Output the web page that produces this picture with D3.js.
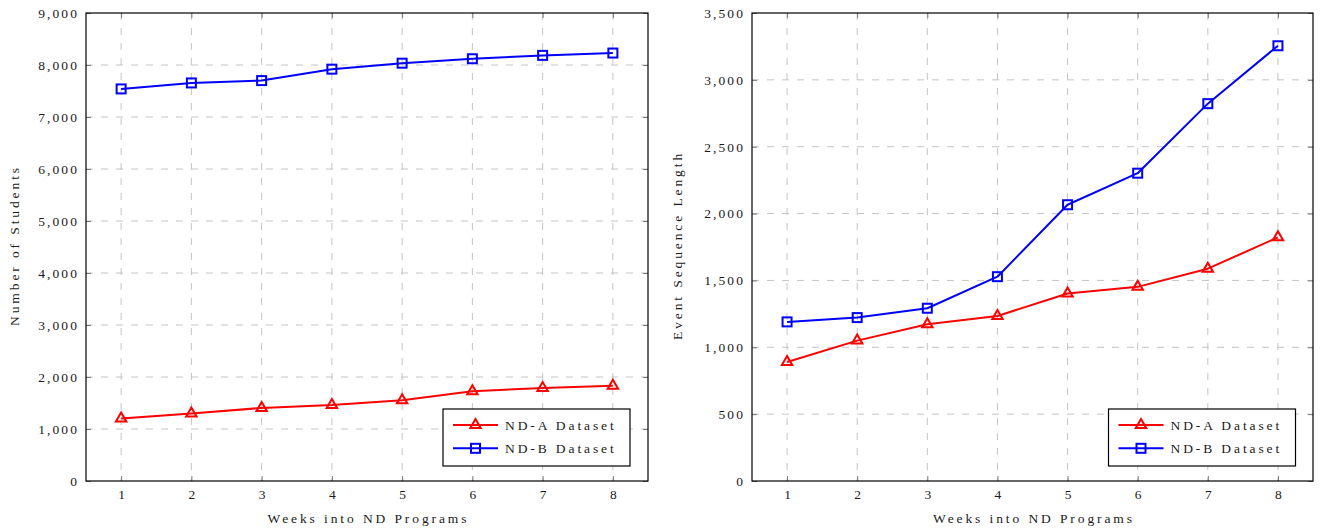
<!DOCTYPE html>
<html>
<head>
<meta charset="utf-8">
<script src="https://cdn.jsdelivr.net/npm/d3@7"></script>
<style>
  html, body { margin: 0; padding: 0; background: #fff; }
  svg { display: block; }
  text { font-family: "Liberation Serif", "DejaVu Serif", serif; fill: #1a1a1a; }
</style>
</head>
<body>
<svg id="chart" width="1322" height="531"></svg>
<script>
// ---- data ----
const weeks = [1, 2, 3, 4, 5, 6, 7, 8];
const seriesNames = ["ND-A Dataset", "ND-B Dataset"];

const studentsA = [1200, 1300, 1405, 1460, 1555, 1725, 1790, 1830];
const studentsB = [7540, 7655, 7700, 7920, 8035, 8120, 8185, 8230];

const seqLenA = [890, 1050, 1172, 1234, 1402, 1452, 1588, 1822];
const seqLenB = [1190, 1222, 1292, 1528, 2066, 2302, 2822, 3255];

const leftYTicks = [0, 1000, 2000, 3000, 4000, 5000, 6000, 7000, 8000, 9000];
const rightYTicks = [0, 500, 1000, 1500, 2000, 2500, 3000, 3500];

const xTitle = "Weeks into ND Programs";
const leftYTitle = "Number of Students";
const rightYTitle = "Event Sequence Length";

// ---- drawing ----
const svg = d3.select("#chart");
const fmt = d3.format(",");
const FS = "13.5px";

function panel(opts) {
  const { x0, x1, y0, y1, yMax, yTicks, a, b, yTitle, yTitleX, legendX } = opts;
  const g = svg.append("g");
  const x = d3.scaleLinear().domain([0.5, 8.5]).range([x0, x1]);
  const y = d3.scaleLinear().domain([0, yMax]).range([y1, y0]);

  // grid
  g.append("g").selectAll("line").data(weeks).join("line")
    .attr("x1", d => x(d)).attr("x2", d => x(d))
    .attr("y1", y0).attr("y2", y1)
    .attr("stroke", "#c4c4c4").attr("stroke-width", 1)
    .attr("stroke-dasharray", "7,8");
  g.append("g").selectAll("line").data(yTicks.slice(1, -1)).join("line")
    .attr("x1", x0).attr("x2", x1)
    .attr("y1", d => y(d)).attr("y2", d => y(d))
    .attr("stroke", "#c4c4c4").attr("stroke-width", 1)
    .attr("stroke-dasharray", "7,8");

  // axes (inward ticks on all sides)
  const styleAxis = sel => {
    sel.select(".domain").remove();
    sel.selectAll(".tick line").attr("stroke", "#7a7a7a").attr("stroke-width", 1);
    sel.selectAll("text").style("font-size", FS)
      .style("letter-spacing", "2.1px").attr("fill", "#1a1a1a");
  };
  g.append("g").attr("transform", `translate(0,${y1})`)
    .call(d3.axisBottom(x).tickValues(weeks).tickSize(-5).tickPadding(8).tickFormat(d3.format("d")))
    .call(styleAxis)
    .selectAll("text").attr("dx", "1px");
  g.append("g").attr("transform", `translate(0,${y0})`)
    .call(d3.axisTop(x).tickValues(weeks).tickSize(-5).tickFormat(""))
    .call(styleAxis);
  g.append("g").attr("transform", `translate(${x0},0)`)
    .call(d3.axisLeft(y).tickValues(yTicks).tickSize(-5).tickPadding(7).tickFormat(fmt))
    .call(styleAxis);
  g.append("g").attr("transform", `translate(${x1},0)`)
    .call(d3.axisRight(y).tickValues(yTicks).tickSize(-5).tickFormat(""))
    .call(styleAxis);

  // frame
  g.append("rect").attr("x", x0).attr("y", y0)
    .attr("width", x1 - x0).attr("height", y1 - y0)
    .attr("fill", "none").attr("stroke", "#000").attr("stroke-width", 1.2);

  // titles
  g.append("text").attr("x", (x0 + x1) / 2 + 1.5).attr("y", 523)
    .attr("text-anchor", "middle").style("font-size", FS)
    .style("letter-spacing", "2.9px").text(xTitle);
  g.append("text")
    .attr("transform", `translate(${yTitleX},${(y0 + y1) / 2 - 1.5}) rotate(-90)`)
    .attr("text-anchor", "middle").style("font-size", FS)
    .style("letter-spacing", "2.9px").text(yTitle);

  const line = d3.line().x((d, i) => x(weeks[i])).y(d => y(d));
  const triPath = r => `M0,${-r}L${r * 0.866},${r * 0.5}L${-r * 0.866},${r * 0.5}Z`;
  const series = [
    { vals: a, color: "#ff0000", mark: "tri" },
    { vals: b, color: "#0000ff", mark: "sq" }
  ];
  const drawMark = (sel, s) => {
    if (s.mark === "sq") {
      sel.append("rect").attr("x", -4.5).attr("y", -4.5).attr("width", 9).attr("height", 9)
        .attr("fill", "none").attr("stroke", s.color).attr("stroke-width", 2);
    } else {
      sel.append("path").attr("d", triPath(6))
        .attr("fill", "none").attr("stroke", s.color).attr("stroke-width", 2)
        .attr("stroke-linejoin", "miter");
    }
  };
  series.forEach(s => {
    g.append("path").datum(s.vals).attr("d", line)
      .attr("fill", "none").attr("stroke", s.color).attr("stroke-width", 2)
      .attr("stroke-linejoin", "round");
    g.append("g").selectAll("g").data(s.vals).join("g")
      .attr("transform", (d, i) => `translate(${x(weeks[i])},${y(d)})`)
      .each(function () { drawMark(d3.select(this), s); });
  });

  // legend
  const lg = g.append("g").attr("transform", `translate(${legendX},409)`);
  lg.append("rect").attr("x", 0).attr("y", 0).attr("width", 187).attr("height", 57)
    .attr("fill", "#fff").attr("stroke", "#000").attr("stroke-width", 1.2);
  series.forEach((s, i) => {
    const cy = 16 + i * 23.3;
    lg.append("line").attr("x1", 10).attr("x2", 55).attr("y1", cy).attr("y2", cy)
      .attr("stroke", s.color).attr("stroke-width", 2);
    const m = lg.append("g").attr("transform", `translate(32.5,${cy})`);
    drawMark(m, s);
    lg.append("text").attr("x", 62).attr("y", cy + 4.8)
      .style("font-size", FS).style("letter-spacing", "2.9px")
      .text(seriesNames[i]);
  });
}

panel({ x0: 86, x1: 648, y0: 13, y1: 481, yMax: 9000, yTicks: leftYTicks,
  a: studentsA, b: studentsB, yTitle: leftYTitle, yTitleX: 19, legendX: 443 });
panel({ x0: 752, x1: 1313, y0: 13, y1: 481, yMax: 3500, yTicks: rightYTicks,
  a: seqLenA, b: seqLenB, yTitle: rightYTitle, yTitleX: 682, legendX: 1108.5 });
</script>
</body>
</html>
